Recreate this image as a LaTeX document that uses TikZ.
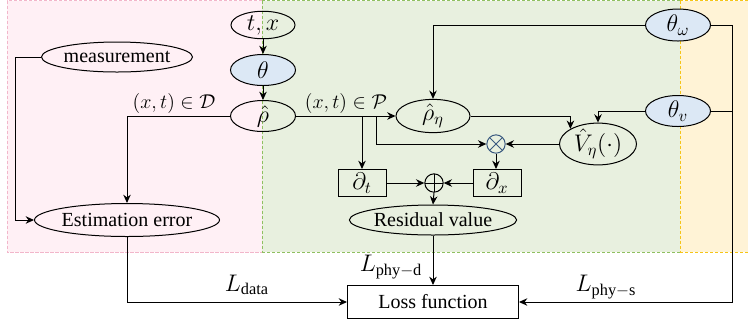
\documentclass[tikz,border=0pt]{standalone}
\usepackage{fontspec}
\setmainfont{Liberation Serif}
\usetikzlibrary{shapes.geometric,arrows.meta,calc}
\definecolor{pinkF}{HTML}{FFF0F5}
\definecolor{pinkB}{HTML}{F2B6CA}
\definecolor{greenF}{HTML}{E8F0DF}
\definecolor{greenB}{HTML}{8FC060}
\definecolor{yellowF}{HTML}{FFF3D6}
\definecolor{yellowB}{HTML}{F5C518}
\definecolor{blueF}{HTML}{DCE8F5}
\definecolor{opblue}{HTML}{3B5A80}
\begin{document}
\begin{tikzpicture}[x=0.6pt,y=-0.6pt,font=\fontsize{12}{14}\selectfont,
  line width=0.6pt,>={Stealth[length=5pt,width=4.5pt]},
  ell/.style={draw,ellipse,inner sep=0pt},
  blu/.style={ell,fill=blueF},
  box/.style={draw,rectangle,inner sep=0pt},
  mth/.style={font=\fontsize{14}{16}\selectfont},
  opnode/.style={draw,circle,minimum size=11pt,inner sep=0pt},
  region/.style={dash pattern=on 2pt off 1pt,line width=0.5pt},
  lbl/.style={inner sep=0pt,mth},
  setlbl/.style={inner sep=0pt,font=\fontsize{12.5}{15}\selectfont}]
\useasboundingbox (0,0) rectangle (748,324);
% regions
\fill[pinkF] (7,0.5) rectangle (262,252);
\fill[greenF] (262,0.5) rectangle (680,252);
\fill[yellowF] (680,0.5) rectangle (748,252);
\draw[region,pinkB] (262,0.5) -- (7,0.5) -- (7,252) -- (262,252);
\draw[region,greenB] (262,0.5) -- (680,0.5);
\draw[region,greenB] (262,252) -- (680,252);
\draw[region,greenB] (262,0.5) -- (262,252);
\draw[region,yellowB] (680,0.5) -- (748,0.5);
\draw[region,yellowB] (680,252) -- (748,252);
\draw[region,yellowB] (680,0.5) -- (680,252);
% nodes
\node[ell,mth,minimum width=38.4pt,minimum height=14.4pt] (tx) at (263,25) {$t,x$};
\node[blu,mth,minimum width=39pt,minimum height=18.6pt] (theta) at (263,70) {$\theta$};
\node[ell,mth,minimum width=39pt,minimum height=18.6pt] (rho) at (263,116) {$\hat\rho$};
\node[ell,minimum width=90.6pt,minimum height=18pt] (meas) at (117,57) {measurement};
\node[ell,minimum width=111pt,minimum height=19.8pt] (est) at (127,220) {Estimation error};
\node[box,minimum width=102.6pt,minimum height=19.8pt] (loss) at (433,302) {Loss function};
\node[ell,minimum width=97.2pt,minimum height=18pt] (res) at (433,220) {Residual value};
\node[opnode,path picture={\draw (path picture bounding box.north) -- (path picture bounding box.south) (path picture bounding box.west) -- (path picture bounding box.east);}] (oplus) at (434,183) {};
\node[box,mth,minimum width=28.8pt,minimum height=16.2pt] (dt) at (362,183) {$\partial_t$};
\node[box,mth,minimum width=28.8pt,minimum height=16.2pt] (dx) at (497,183) {$\partial_x$};
\node[opnode,draw=opblue,path picture={\draw[opblue] (path picture bounding box.north west) -- (path picture bounding box.south east) (path picture bounding box.south west) -- (path picture bounding box.north east);}] (otimes) at (496,144) {};
\node[ell,mth,minimum width=46.2pt,minimum height=16.8pt] (V) at (598,144) {$\hat{V}_{\eta}(\cdot)$};
\node[ell,mth,minimum width=44.4pt,minimum height=14.4pt] (rhoeta) at (433,116) {$\hat\rho_\eta$};
\node[blu,mth,minimum width=39pt,minimum height=19.2pt] (thw) at (678,25) {$\theta_\omega$};
\node[blu,mth,minimum width=39pt,minimum height=18.6pt] (thv) at (678,111) {$\theta_v$};
% coordinates
\coordinate (c1) at (15,57);
\coordinate (b1) at (362,116);
\coordinate (b2) at (376,116);
\coordinate (r1) at (732,25);
% connectors
\draw[->] (tx) -- (theta);
\draw[->] (theta) -- (rho);
\draw[->] (meas.west) -- (c1) |- (est.west);
\draw[->] (rho.west) -| (est.north);
\draw[->] (est.south) |- (loss.west);
\draw[->] (rho.east) -- (rhoeta.west);
\draw[->] (b1) -- (dt.north);
\draw[->] (b2) |- (otimes.west);
\draw[->] (thw.west) -| (rhoeta.north);
\draw[->] (thv.west) -| (V.north);
\draw[->] (rhoeta.east) -| (V.north west);
\draw[->] (V.west) -- (otimes.east);
\draw[->] (otimes.south) -- (dx.north -| otimes.south);
\draw[->] (dt.east) -- (oplus.west);
\draw[->] (dx.west) -- (oplus.east);
\draw[->] (oplus.south) -- (res.north);
\draw[->] (res.south) -- (loss.north);
\draw (thw.east) -- (r1);
\draw (thv.east) -- (thv.east -| r1);
\draw[->] (r1) |- (loss.east);
% labels
\node[setlbl] (lD) at (174,103) {$(x,t)\in\mathcal{D}$};
\node[setlbl] (lP) at (346,103) {$(x,t)\in\mathcal{P}$};
\node[lbl] (ldata) at (247,285) {$L_{\mathrm{data}}$};
\node[lbl] (lphyd) at (391,267) {$L_{\mathrm{phy-d}}$};
\node[lbl] (lphys) at (606,287) {$L_{\mathrm{phy-s}}$};
\end{tikzpicture}
\end{document}
